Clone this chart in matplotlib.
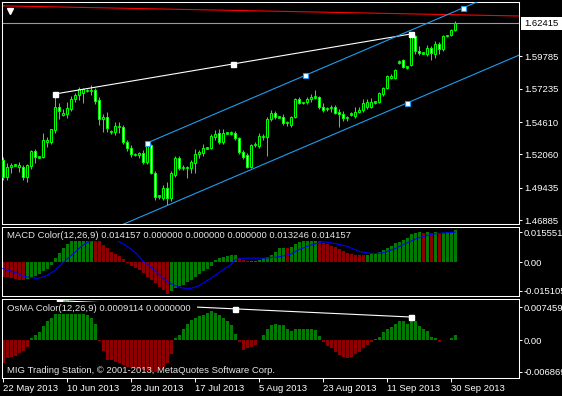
import matplotlib
matplotlib.use("Agg")
import matplotlib.pyplot as plt
from matplotlib.patches import Rectangle

plt.rcParams['font.family'] = ['Liberation Sans', 'DejaVu Sans']
FS = 6.8

# ---------------- data ----------------
date_labels = ["22 May 2013", "10 Jun 2013", "28 Jun 2013", "17 Jul 2013",
               "5 Aug 2013", "23 Aug 2013", "11 Sep 2013", "30 Sep 2013"]
date_bars = [0, 16, 32, 48, 64, 80, 96, 112]

opens = [1.5162, 1.5028, 1.5107, 1.5120, 1.5107, 1.5107, 1.5028, 1.5115, 1.5233, 1.5186,
         1.5186, 1.5304, 1.5304, 1.5399, 1.5580, 1.5517, 1.5525, 1.5564, 1.5643, 1.5674,
         1.5690, 1.5714, 1.5706, 1.5714, 1.5635, 1.5485, 1.5501, 1.5391, 1.5383, 1.5430,
         1.5422, 1.5304, 1.5257, 1.5210, 1.5202, 1.5217, 1.5146, 1.5280, 1.5060, 1.4871,
         1.4863, 1.4942, 1.4863, 1.5044, 1.5178, 1.5099, 1.5107, 1.5099, 1.5139, 1.5210,
         1.5217, 1.5257, 1.5257, 1.5343, 1.5375, 1.5304, 1.5375, 1.5375, 1.5375, 1.5336,
         1.5225, 1.5202, 1.5107, 1.5280, 1.5273, 1.5351, 1.5343, 1.5485, 1.5533, 1.5501,
         1.5501, 1.5454, 1.5438, 1.5501, 1.5643, 1.5611, 1.5619, 1.5643, 1.5659, 1.5659,
         1.5580, 1.5564, 1.5572, 1.5580, 1.5540, 1.5525, 1.5493, 1.5520, 1.5509, 1.5540,
         1.5556, 1.5580, 1.5580, 1.5619, 1.5619, 1.5682, 1.5730, 1.5808, 1.5808, 1.5934,
         1.5950, 1.5895, 1.5911, 1.6139, 1.6021, 1.6005, 1.5997, 1.6045, 1.5997, 1.6076,
         1.6037, 1.6139, 1.6147, 1.6186]
highs = [1.5186, 1.5139, 1.5139, 1.5130, 1.5150, 1.5123, 1.5130, 1.5241, 1.5250, 1.5194,
         1.5375, 1.5343, 1.5406, 1.5682, 1.5611, 1.5560, 1.5619, 1.5666, 1.5690, 1.5737,
         1.5730, 1.5722, 1.5753, 1.5730, 1.5659, 1.5525, 1.5540, 1.5399, 1.5462, 1.5462,
         1.5438, 1.5320, 1.5280, 1.5220, 1.5225, 1.5241, 1.5304, 1.5290, 1.5075, 1.4890,
         1.4965, 1.4990, 1.5075, 1.5194, 1.5190, 1.5123, 1.5115, 1.5162, 1.5250, 1.5241,
         1.5290, 1.5265, 1.5367, 1.5400, 1.5410, 1.5410, 1.5383, 1.5391, 1.5391, 1.5343,
         1.5241, 1.5217, 1.5288, 1.5300, 1.5375, 1.5367, 1.5500, 1.5556, 1.5548, 1.5510,
         1.5525, 1.5470, 1.5509, 1.5650, 1.5660, 1.5620, 1.5659, 1.5680, 1.5714, 1.5670,
         1.5611, 1.5580, 1.5596, 1.5596, 1.5560, 1.5548, 1.5509, 1.5540, 1.5580, 1.5580,
         1.5640, 1.5640, 1.5650, 1.5630, 1.5700, 1.5740, 1.5830, 1.5840, 1.5880, 1.5950,
         1.5960, 1.5905, 1.6155, 1.6147, 1.6060, 1.6013, 1.6070, 1.6060, 1.6100, 1.6090,
         1.6147, 1.6150, 1.6195, 1.6257]
lows = [1.5005, 1.5005, 1.5060, 1.5115, 1.5068, 1.5005, 1.4990, 1.5090, 1.5139, 1.5178,
        1.5178, 1.5265, 1.5290, 1.5375, 1.5485, 1.5510, 1.5493, 1.5548, 1.5620, 1.5635,
        1.5611, 1.5700, 1.5674, 1.5600, 1.5438, 1.5383, 1.5383, 1.5367, 1.5359, 1.5375,
        1.5288, 1.5233, 1.5186, 1.5195, 1.5180, 1.5130, 1.5130, 1.5050, 1.4847, 1.4855,
        1.4847, 1.4808, 1.4840, 1.5030, 1.5083, 1.5083, 1.5020, 1.5060, 1.5060, 1.5180,
        1.5190, 1.5245, 1.5245, 1.5320, 1.5290, 1.5290, 1.5367, 1.5360, 1.5320, 1.5210,
        1.5170, 1.5099, 1.5099, 1.5265, 1.5260, 1.5320, 1.5194, 1.5470, 1.5485, 1.5490,
        1.5438, 1.5430, 1.5422, 1.5490, 1.5600, 1.5600, 1.5600, 1.5620, 1.5640, 1.5560,
        1.5540, 1.5548, 1.5540, 1.5525, 1.5422, 1.5470, 1.5470, 1.5509, 1.5490, 1.5530,
        1.5540, 1.5560, 1.5570, 1.5605, 1.5610, 1.5670, 1.5720, 1.5800, 1.5800, 1.5920,
        1.5890, 1.5880, 1.5900, 1.6000, 1.5990, 1.5997, 1.5980, 1.5950, 1.5966, 1.5997,
        1.6020, 1.6130, 1.6139, 1.6180]
closes = [1.5028, 1.5107, 1.5123, 1.5125, 1.5123, 1.5028, 1.5123, 1.5233, 1.5186, 1.5190,
          1.5320, 1.5320, 1.5406, 1.5580, 1.5550, 1.5533, 1.5572, 1.5643, 1.5674, 1.5722,
          1.5722, 1.5706, 1.5714, 1.5627, 1.5485, 1.5501, 1.5414, 1.5383, 1.5430, 1.5422,
          1.5304, 1.5257, 1.5210, 1.5202, 1.5217, 1.5146, 1.5280, 1.5060, 1.4871, 1.4880,
          1.4942, 1.4863, 1.5060, 1.5178, 1.5099, 1.5107, 1.5099, 1.5146, 1.5210, 1.5225,
          1.5257, 1.5257, 1.5351, 1.5367, 1.5304, 1.5375, 1.5375, 1.5370, 1.5336, 1.5225,
          1.5186, 1.5107, 1.5280, 1.5288, 1.5351, 1.5343, 1.5485, 1.5533, 1.5501, 1.5501,
          1.5454, 1.5462, 1.5501, 1.5643, 1.5611, 1.5619, 1.5643, 1.5659, 1.5655, 1.5580,
          1.5556, 1.5572, 1.5580, 1.5533, 1.5525, 1.5493, 1.5501, 1.5525, 1.5540, 1.5556,
          1.5611, 1.5619, 1.5619, 1.5619, 1.5690, 1.5730, 1.5824, 1.5824, 1.5871, 1.5934,
          1.5895, 1.5890, 1.6139, 1.6021, 1.6005, 1.6005, 1.6045, 1.6005, 1.6076, 1.6037,
          1.6139, 1.6147, 1.6186, 1.62415]

macd = [-0.0065, -0.0068, -0.0072, -0.0075, -0.0078, -0.0081, -0.0074, -0.0068, -0.0060, -0.0052,
        -0.0042, -0.0029, -0.0014, 0.0018, 0.0040, 0.0062, 0.0080, 0.0096, 0.0108, 0.0120,
        0.0128, 0.0133, 0.0136, 0.0128, 0.0095, 0.0075, 0.0062, 0.0046, 0.0035, 0.0025,
        0.0012, -0.0003, -0.0016, -0.0026, -0.0037, -0.0050, -0.0065, -0.0080, -0.0095, -0.0110,
        -0.0124, -0.0140, -0.0128, -0.0115, -0.0108, -0.0100, -0.0090, -0.0080, -0.0068, -0.0055,
        -0.0042, -0.0030, -0.0016, 0.0008, 0.0016, 0.0024, 0.0027, 0.0030, 0.0032, 0.0017,
        0.0009, 0.0003, 0.0005, 0.0006, 0.0009, 0.0016, 0.0021, 0.0031, 0.0046, 0.0061,
        0.0064, 0.0061, 0.0068, 0.0078, 0.0088, 0.0095, 0.0100, 0.0103, 0.0104, 0.0096,
        0.0085, 0.0078, 0.0073, 0.0068, 0.0058, 0.0048, 0.0040, 0.0035, 0.0031, 0.0030,
        0.0029, 0.0031, 0.0035, 0.0040, 0.0046, 0.0053, 0.0061, 0.0071, 0.0083, 0.0090,
        0.0098, 0.0106, 0.0123, 0.0130, 0.0132, 0.0131, 0.0132, 0.0131, 0.0133, 0.0127,
        0.0131, 0.0132, 0.0135, 0.014157]
signal = [-0.0029, -0.0035, -0.0041, -0.0046, -0.0054, -0.0062, -0.0066, -0.0069, -0.0072, -0.0071,
          -0.0067, -0.0059, -0.0049, -0.0037, -0.0020, -0.0003, 0.0013, 0.0028, 0.0043, 0.0060,
          0.0075, 0.0086, 0.0094, 0.0099, 0.0103, 0.0105, 0.0105, 0.0103, 0.0100, 0.0091,
          0.0081, 0.0069, 0.0057, 0.0044, 0.0025, 0.0005, -0.0009, -0.0023, -0.0037, -0.0054,
          -0.0072, -0.0085, -0.0096, -0.0105, -0.0111, -0.0116, -0.0117, -0.0117, -0.0112, -0.0105,
          -0.0094, -0.0083, -0.0072, -0.0060, -0.0047, -0.0035, -0.0023, -0.0011, 0.0009, 0.0014,
          0.0017, 0.0017, 0.0017, 0.0017, 0.0017, 0.0017, 0.0018, 0.0020, 0.0021, 0.0023,
          0.0027, 0.0031, 0.0035, 0.0045, 0.0055, 0.0062, 0.0069, 0.0075, 0.0080, 0.0085,
          0.0090, 0.0088, 0.0085, 0.0082, 0.0078, 0.0074, 0.0070, 0.0062, 0.0055, 0.0047,
          0.0044, 0.0041, 0.0038, 0.0038, 0.0039, 0.0041, 0.0047, 0.0053, 0.0059, 0.0068,
          0.0077, 0.0085, 0.0093, 0.0101, 0.0108, 0.0113, 0.0118, 0.0123, 0.0125, 0.0127,
          0.0129, 0.0130, 0.0131, 0.013246]
osma = [-0.0041, -0.0033, -0.0030, -0.0029, -0.0024, -0.0020, -0.0012, 0.0003, 0.0009, 0.0015,
        0.0026, 0.0034, 0.0041, 0.0065, 0.0072, 0.0075, 0.0074, 0.0071, 0.0066, 0.0060,
        0.0053, 0.0046, 0.0041, 0.0030, -0.0002, -0.0020, -0.0036, -0.0036, -0.0039, -0.0042,
        -0.0045, -0.0048, -0.0050, -0.0051, -0.0052, -0.0054, -0.0056, -0.0057, -0.0057, -0.0054,
        -0.0048, -0.0042, -0.0025, 0.0003, 0.0010, 0.0021, 0.0030, 0.0037, 0.0041, 0.0043,
        0.0046, 0.0049, 0.0052, 0.0049, 0.0046, 0.0040, 0.0035, 0.0027, 0.0012, -0.0003,
        -0.0018, -0.0015, -0.0012, -0.0009, 0.0001, 0.0009, 0.0021, 0.0027, 0.0030, 0.0028,
        0.0027, 0.0021, 0.0017, 0.0021, 0.0021, 0.0021, 0.0021, 0.0021, 0.0018, 0.0008,
        -0.0003, -0.0010, -0.0015, -0.0022, -0.0027, -0.0030, -0.0032, -0.0030, -0.0026, -0.0021,
        -0.0015, -0.0009, -0.0003, 0.0002, 0.0006, 0.0014, 0.0021, 0.0024, 0.0029, 0.0035,
        0.0034, 0.0030, 0.0040, 0.0034, 0.0026, 0.0021, 0.0017, 0.0006, 0.0004, -0.0003,
        0.0001, 0.0001, 0.0004, 0.0009114]

price_ticks = [1.59785, 1.57235, 1.54610, 1.52060, 1.49435, 1.46885]
last_price = 1.62415
macd_range = (-0.015105, 0.015551)
osma_range = (-0.006869, 0.007459)

# drawn objects (anchor values)
white_line = [(13, 1.5682), (102, 1.6155)]
channel_upper = [(36, 1.5296), (115, 1.6360)]
channel_lower_anchor = (101, 1.5611)
red_line = [(-1, 1.6377), (130, 1.6296)]
osma_line = [(14, 0.00715), (102, 0.00419)]

macd_text = "MACD Color(12,26,9) 0.014157 0.000000 0.000000 0.000000 0.013246 0.014157"
osma_text = "OsMA Color(12,26,9) 0.0009114 0.0000000"
copyright_text = "MIG Trading Station, \u00a9 2001-2013, MetaQuotes Software Corp."

# ---------------- styling ----------------
LIME = '#00ff00'
GREEN = '#007a00'
RED = '#8e0000'
BLUE = '#0000ff'
CHAN = '#1e9ef0'
TXT = '#e6e6e6'

W, H = 562, 396
fig = plt.figure(figsize=(W / 100, H / 100), dpi=100, facecolor='black')


def box(x0, y0, x1, y1):
    return [x0 / W, 1 - y1 / H, (x1 - x0) / W, (y1 - y0) / H]


def style(ax):
    ax.set_facecolor('black')
    for s in ax.spines.values():
        s.set_color('white')
        s.set_linewidth(0.75)
    ax.yaxis.tick_right()
    ax.tick_params(axis='y', colors='white', direction='out', length=2.2,
                   width=0.75, labelsize=FS, pad=1.3)
    ax.tick_params(axis='x', bottom=False, labelbottom=False)
    ax.set_xlim(-0.25, 129)


def val_at(lims, top_px, bot_px, ypx):
    lo, hi = lims
    return hi - (ypx - top_px) / (bot_px - top_px) * (hi - lo)


n = len(closes)
idx = list(range(n))

# ---------------- main price panel ----------------
ax1 = fig.add_axes(box(2, 2, 519, 224))
style(ax1)
ax1.set_ylim(1.46576, 1.64069)

ax1.plot([p[0] for p in red_line], [p[1] for p in red_line], color='#ff0000', lw=0.8, zorder=2)
ax1.axhline(last_price, color='#9a9a9a', lw=0.8, zorder=2)

for i in idx:
    o, h, l, c = opens[i], highs[i], lows[i], closes[i]
    ax1.vlines(i, l, h, color=LIME, lw=0.75, zorder=3)
    lo, hi = min(o, c), max(o, c)
    if hi - lo < 0.0012:
        mid = (lo + hi) / 2
        ax1.add_patch(Rectangle((i - 0.3, mid - 0.0007), 0.6, 0.0014,
                                facecolor=LIME, edgecolor=LIME, lw=0.6, zorder=4))
    else:
        ax1.add_patch(Rectangle((i - 0.3, lo), 0.6, hi - lo,
                                facecolor='black' if c >= o else 'white',
                                edgecolor=LIME, lw=0.75, zorder=4))

# white trendline
(x0, y0), (x1, y1) = white_line
ax1.plot([x0, x1], [y0, y1], color='white', lw=0.8, zorder=5)
ax1.plot([x0, (x0 + x1) / 2, x1], [y0, (y0 + y1) / 2, y1], ls='none', marker='s',
         ms=3.6, mfc='white', mec='white', zorder=6)

# equidistant channel
(cx0, cy0), (cx1, cy1) = channel_upper
slope = (cy1 - cy0) / (cx1 - cx0)
xe = 140
ax1.plot([cx0, xe], [cy0, cy0 + slope * (xe - cx0)], color=CHAN, lw=0.8, zorder=5)
lx, ly = channel_lower_anchor
xs = 20
ax1.plot([xs, xe], [ly + slope * (xs - lx), ly + slope * (xe - lx)], color=CHAN, lw=0.8, zorder=5)
ax1.plot([cx0, (cx0 + cx1) / 2, cx1, lx], [cy0, (cy0 + cy1) / 2, cy1, ly], ls='none', marker='s',
         ms=3.6, mfc='white', mec=CHAN, mew=0.8, zorder=6)

# one-click triangle
ax1.plot([(9.5 - 2) / 517], [1 - (10.5 - 2) / 222], marker='v', ms=5, color='white',
         transform=ax1.transAxes, clip_on=False, zorder=7)

ax1.set_yticks(price_ticks)
ax1.set_yticklabels([f"{v:.5f}" for v in price_ticks])

# ---------------- MACD panel ----------------
ax2 = fig.add_axes(box(2, 227, 519, 296))
style(ax2)
ax2.set_ylim(*macd_range)
mcol = [GREEN if (i > 0 and macd[i] > macd[i - 1]) else RED for i in idx]
ax2.bar(idx, macd, width=0.75, color=mcol, linewidth=0, zorder=2)
ax2.plot(idx, signal, color=BLUE, lw=0.8, zorder=3)
ax2.set_yticks([val_at(macd_range, 227, 296, 232.3), 0.0, val_at(macd_range, 227, 296, 290.5)])
ax2.set_yticklabels([f"{macd_range[1]:.6f}", "0.00", f"{macd_range[0]:.6f}"])

# ---------------- OsMA panel ----------------
ax3 = fig.add_axes(box(2, 299, 519, 378))
style(ax3)
ax3.set_ylim(*osma_range)
ocol = [GREEN if v >= 0 else RED for v in osma]
ax3.bar(idx, osma, width=0.75, color=ocol, linewidth=0, zorder=2)
(ox0, oy0), (ox1, oy1) = osma_line
ax3.plot([ox0, ox1], [oy0, oy1], color='white', lw=0.8, zorder=5)
ax3.plot([ox0, (ox0 + ox1) / 2, ox1], [oy0, (oy0 + oy1) / 2, oy1], ls='none', marker='s',
         ms=3.6, mfc='white', mec='white', zorder=6)
ax3.set_yticks([val_at(osma_range, 299, 378, 307.3), 0.0, val_at(osma_range, 299, 378, 371.7)])
ax3.set_yticklabels([f"{osma_range[1]:.6f}", "0.00", f"{osma_range[0]:.6f}"])
ax3.set_xticks(date_bars)
ax3.set_xticklabels(date_labels)
ax3.tick_params(axis='x', bottom=True, labelbottom=True, colors='white', direction='out',
                length=3, width=0.75, labelsize=FS, pad=1.5)
for lbl in ax3.get_xticklabels():
    lbl.set_ha('left')

# ---------------- texts ----------------
# current price label box
fig.add_artist(Rectangle((521 / W, 1 - 29.5 / H), 41 / W, 12.5 / H, transform=fig.transFigure,
                         facecolor='white', edgecolor='none', zorder=4))
fig.text(524.5 / W, 1 - 23.2 / H, f"{last_price:.5f}", color='black', fontsize=FS,
         va='center', ha='left', zorder=5)

t_macd = fig.text(7 / W, 1 - 235.5 / H, macd_text, color=TXT, fontsize=FS,
                  va='center', ha='left', zorder=6)
t_osma = fig.text(7 / W, 1 - 308.5 / H, osma_text, color=TXT, fontsize=FS,
                  va='center', ha='left', zorder=6)
fig.text(7 / W, 1 - 370.5 / H, copyright_text, color=TXT, fontsize=FS,
         va='center', ha='left', zorder=6)

fig.canvas.draw()
r = fig.canvas.get_renderer()
bb = t_macd.get_window_extent(renderer=r)
fig.add_artist(Rectangle((3 / W, 1 - 240.7 / H), (bb.x1 + 2 - 3) / W, 12.5 / H,
                         transform=fig.transFigure, facecolor='black', edgecolor='none', zorder=5))
bb = t_osma.get_window_extent(renderer=r)
fig.add_artist(Rectangle((3 / W, 1 - 314 / H), (bb.x1 + 6 - 3) / W, 12.3 / H,
                         transform=fig.transFigure, facecolor='black', edgecolor='none', zorder=5))

fig.savefig("out.png", dpi=100, facecolor='black')
